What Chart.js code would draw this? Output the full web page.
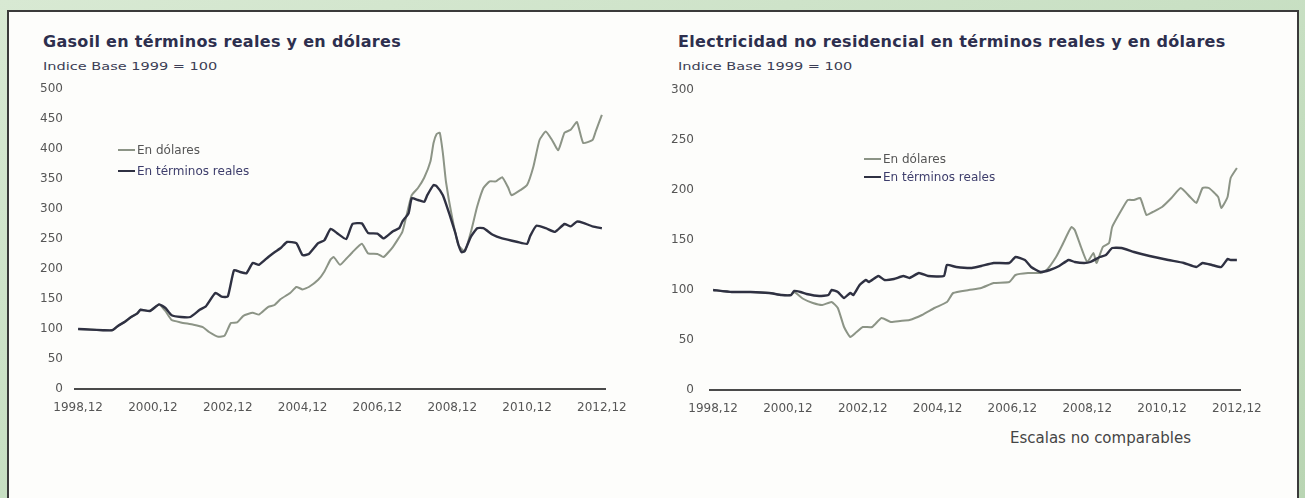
<!DOCTYPE html>
<html>
<head>
<meta charset="utf-8">
<script src="https://cdn.jsdelivr.net/npm/chart.js@4"></script>
<style>
  body { margin: 0; width: 1305px; height: 498px; overflow: hidden;
         background: linear-gradient(160deg, #d8e9d3 0%, #c4ddbf 60%, #b9d5b3 100%);
         font-family: 'DejaVu Sans', sans-serif; position: relative; }
  #panel { position: absolute; left: 7px; top: 10px; width: 1288px; height: 500px;
           background: #fdfdfb; border: 2px solid #3a3a3a; }
  .titulo { position: absolute; font: bold 16px/16px 'DejaVu Sans', sans-serif; color: #2d2f4e;
            letter-spacing: 0.3px; white-space: nowrap; }
  .sub { position: absolute; font: 11px/11px 'DejaVu Sans', sans-serif; color: #3b3d55; white-space: nowrap;
         transform: scaleX(1.32); transform-origin: left top; }
  .nota { position: absolute; font: 15px/15px 'DejaVu Sans', sans-serif; color: #454545; white-space: nowrap; }
  .leyenda { position: absolute; font: 12px/12px 'DejaVu Sans', sans-serif; white-space: nowrap; }
  .fila { display: flex; align-items: center; height: 12px; }
  .fila i { display: inline-block; width: 17px; height: 2px; margin-right: 2px; }
  canvas { position: absolute; }
</style>
</head>
<body>
<div id="panel"></div>

<div class="titulo" style="left:43px; top:34px">Gasoil en términos reales y en dólares</div>
<div class="sub" style="left:43px; top:61px">Indice Base 1999 = 100</div>
<div class="titulo" style="left:678px; top:34px">Electricidad no residencial en términos reales y en dólares</div>
<div class="sub" style="left:678px; top:61px">Indice Base 1999 = 100</div>

<canvas id="gasoil" width="640" height="340" style="left:20px; top:80px"></canvas>
<canvas id="electricidad" width="640" height="341" style="left:655px; top:80px"></canvas>

<div class="leyenda" style="left:118px; top:144px">
  <div class="fila" style="color:#555"><i style="background:#8c9486"></i>En dólares</div>
  <div class="fila" style="color:#3d3d6b; margin-top:9px"><i style="background:#2f3142"></i>En términos reales</div>
</div>
<div class="leyenda" style="left:864px; top:153px">
  <div class="fila" style="color:#555"><i style="background:#8c9486"></i>En dólares</div>
  <div class="fila" style="color:#3d3d6b; margin-top:6px"><i style="background:#2f3142"></i>En términos reales</div>
</div>

<div class="nota" style="left:1010px; top:431px">Escalas no comparables</div>

<script>
// meses contados desde 1998,12
const etiquetas = ['1998,12', '2000,12', '2002,12', '2004,12', '2006,12', '2008,12', '2010,12', '2012,12'];

// Gasoil
const gasoilMesesReales = [0, 4, 8, 11, 13, 15, 17, 19, 20, 23, 26, 28, 30, 33, 36, 39, 41, 44, 46, 48, 50, 52, 54, 56, 58, 61, 63, 65, 67, 70, 72, 74, 77, 79, 81, 83, 86, 88, 91, 93, 96, 98, 101, 103, 104, 106, 107, 109, 111, 112, 114, 115, 117, 119, 121, 122, 123, 124, 126, 128, 130, 133, 136, 141, 144, 145, 147, 150, 153, 156, 158, 160, 162, 165, 168];
const gasoilReales = [100, 99, 98, 98, 106, 112, 120, 126, 132, 130, 141, 135, 123, 120, 120, 132, 138, 160, 154, 154, 198, 195, 193, 210, 207, 220, 228, 235, 245, 243, 223, 225, 243, 248, 267, 260, 250, 275, 276, 260, 259, 251, 263, 268, 279, 293, 318, 315, 312, 323, 340, 338, 323, 293, 260, 240, 228, 230, 254, 268, 268, 257, 251, 245, 242, 255, 272, 268, 262, 275, 271, 279, 277, 271, 268];

const gasoilMesesDolares = [0, 4, 8, 11, 13, 15, 17, 19, 20, 23, 26, 28, 30, 33, 37, 40, 42, 45, 47, 49, 51, 53, 56, 58, 61, 63, 65, 68, 70, 72, 74, 77, 79, 81, 82, 84, 86, 88, 91, 93, 96, 98, 101, 104, 105, 107, 109, 111, 113, 114, 115, 116, 117, 118, 120, 122, 124, 126, 128, 130, 132, 134, 136, 138, 139, 142, 144, 146, 148, 150, 152, 154, 156, 158, 160, 162, 165, 166, 168];
const gasoilDolares = [100, 99, 98, 98, 106, 112, 120, 126, 132, 130, 141, 130, 115, 111, 107, 103, 95, 87, 89, 110, 111, 122, 127, 124, 137, 140, 150, 160, 170, 166, 170, 182, 196, 216, 220, 207, 217, 228, 242, 226, 225, 220, 237, 262, 282, 323, 335, 352, 379, 410, 425, 427, 393, 345, 285, 240, 229, 262, 304, 335, 346, 346, 353, 335, 323, 332, 340, 370, 415, 429, 415, 398, 427, 432, 445, 410, 415, 429, 457];

// Electricidad no residencial
const elecMesesReales = [0, 6, 12, 18, 22, 25, 26, 28, 30, 34, 37, 38, 40, 42, 44, 45, 47, 49, 50, 53, 55, 58, 61, 63, 66, 69, 74, 75, 78, 83, 86, 90, 95, 97, 100, 102, 105, 108, 111, 114, 116, 119, 121, 124, 126, 128, 131, 135, 140, 146, 151, 155, 157, 160, 163, 165, 166, 168];
const elecReales = [100, 98, 98, 97, 95, 95, 99, 98, 96, 94, 95, 100, 98, 92, 97, 95, 105, 110, 108, 114, 110, 111, 114, 112, 117, 114, 114, 125, 123, 122, 124, 127, 127, 133, 130, 123, 118, 120, 124, 130, 128, 127, 128, 133, 135, 142, 142, 138, 134, 130, 127, 123, 127, 125, 123, 131, 130, 130];

const elecMesesDolares = [0, 6, 12, 18, 22, 25, 26, 29, 32, 35, 38, 40, 42, 44, 46, 48, 51, 54, 57, 60, 63, 67, 71, 75, 77, 82, 86, 90, 95, 97, 101, 105, 107, 110, 112, 114, 115, 116, 118, 120, 122, 123, 125, 127, 128, 131, 133, 135, 137, 139, 141, 144, 147, 150, 153, 155, 157, 159, 162, 163, 165, 166, 168];
const elecDolares = [100, 98, 98, 97, 95, 95, 98, 91, 87, 85, 88, 82, 63, 53, 58, 63, 63, 72, 68, 69, 70, 75, 82, 88, 97, 100, 102, 107, 108, 115, 117, 117, 120, 133, 145, 158, 163, 160, 143, 128, 137, 127, 143, 147, 163, 180, 190, 190, 192, 175, 178, 183, 192, 202, 193, 187, 202, 202, 193, 182, 193, 212, 222];

const colorReales = '#2f3142';
const colorDolares = '#8c9486';

function puntos(meses, valores) {
  return meses.map((m, i) => ({ x: m, y: valores[i] }));
}

function grafico(id, reales, dolares, maxY, padTop, padTicks) {
  const ctx = document.getElementById(id).getContext('2d');
  return new Chart(ctx, {
    type: 'line',
    data: {
      datasets: [{
        label: 'En términos reales',
        data: reales,
        borderColor: colorReales,
        borderWidth: 2.4,
        pointRadius: 0,
        tension: 0.15
      }, {
        label: 'En dólares',
        data: dolares,
        borderColor: colorDolares,
        borderWidth: 2,
        pointRadius: 0,
        tension: 0.15
      }]
    },
    options: {
      responsive: false,
      animation: false,
      layout: { padding: { top: padTop, right: 55, left: 0, bottom: 0 } },
      plugins: { legend: { display: false }, tooltip: { enabled: false } },
      scales: {
        x: {
          type: 'linear',
          min: -1,
          max: 169,
          afterBuildTicks: (axis) => { axis.ticks = etiquetas.map((e, i) => ({ value: i * 24 })); },
          afterFit: (axis) => { axis.height = 31; axis.paddingLeft = 0; axis.paddingRight = 0; },
          grid: { display: true, drawOnChartArea: false, drawTicks: false },
          border: { display: true, color: '#4a4a4a', width: 2 },
          ticks: {
            autoSkip: false,
            maxRotation: 0,
            padding: 12,
            color: '#555',
            font: { family: 'DejaVu Sans', size: 12 },
            callback: (v) => etiquetas[v / 24]
          }
        },
        y: {
          min: 0,
          max: maxY,
          afterFit: (axis) => { axis.width = 55; axis.paddingTop = 0; axis.paddingBottom = 0; },
          grid: { display: false, drawTicks: false },
          border: { display: false },
          ticks: {
            stepSize: 50,
            padding: padTicks,
            color: '#555',
            font: { family: 'DejaVu Sans', size: 12 }
          }
        }
      }
    }
  });
}

grafico('gasoil', puntos(gasoilMesesReales, gasoilReales), puntos(gasoilMesesDolares, gasoilDolares), 500, 9, 12);
grafico('electricidad', puntos(elecMesesReales, elecReales), puntos(elecMesesDolares, elecDolares), 300, 10, 16);
</script>
</body>
</html>
